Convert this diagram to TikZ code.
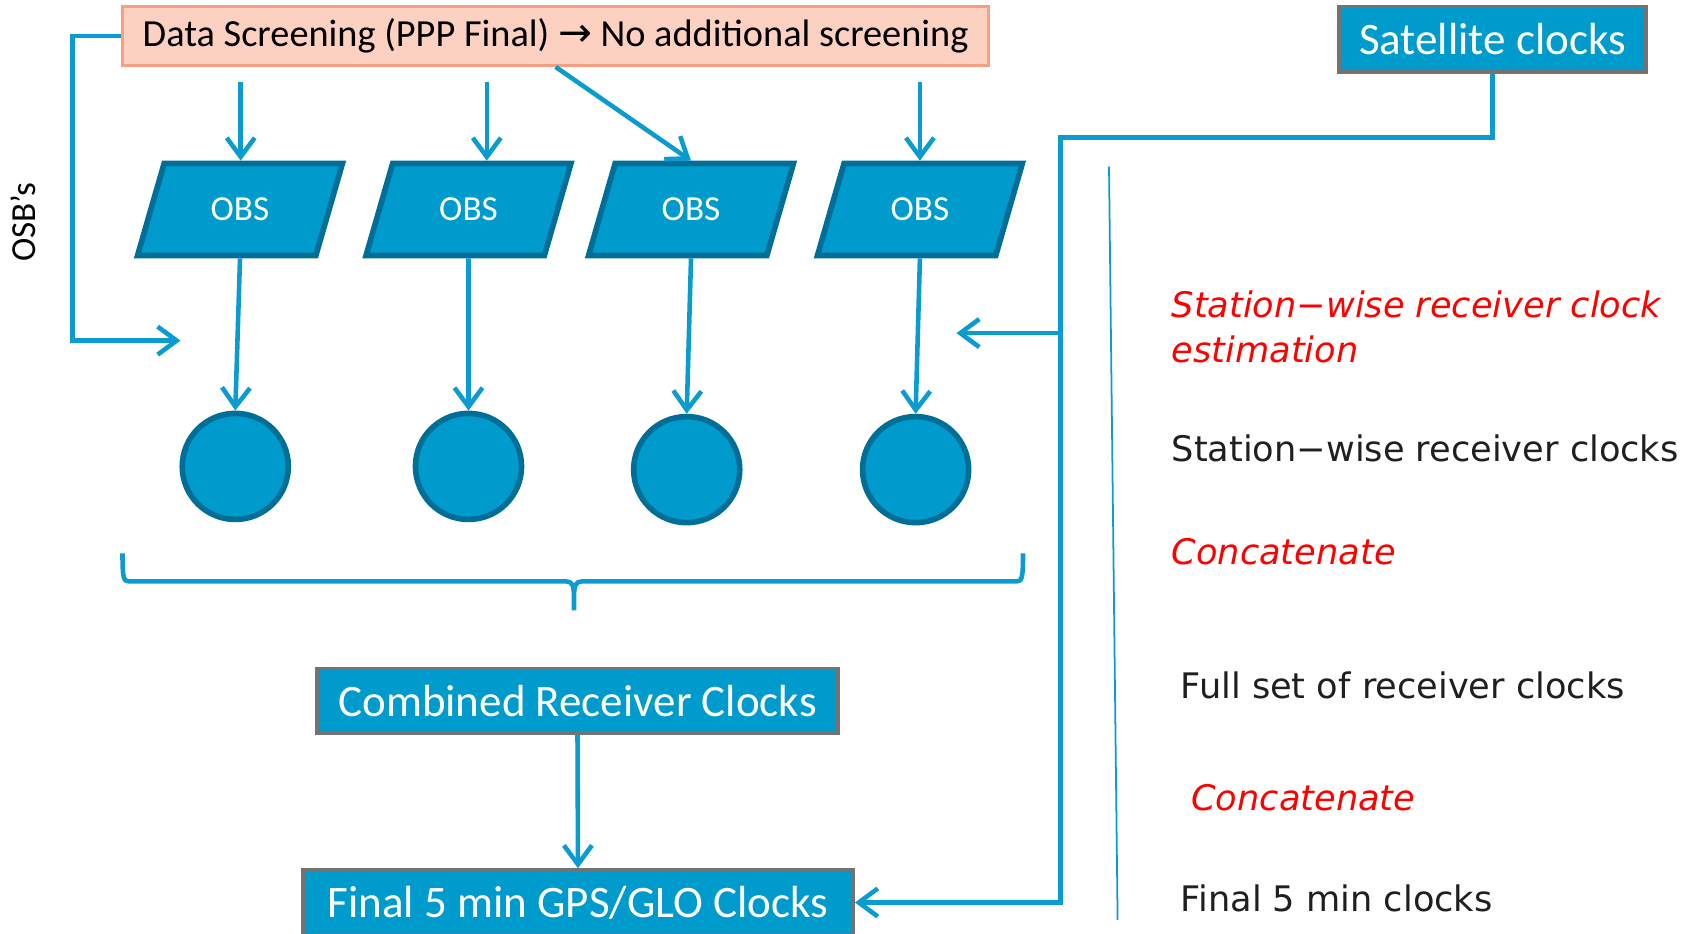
\documentclass[tikz,border=0pt]{standalone}
\usepackage{fontspec}
\setmainfont{Carlito}
\newfontfamily\notefont{DejaVu Sans}
\usetikzlibrary{shapes.geometric,arrows.meta}
\definecolor{clkblue}{RGB}{0,155,205}
\definecolor{clkdark}{RGB}{0,110,150}
\definecolor{clkline}{RGB}{10,155,208}
\definecolor{screenfill}{RGB}{253,209,194}
\definecolor{screenedge}{RGB}{245,160,130}

\begin{document}
\begin{tikzpicture}[x=0.01cm,y=-0.01cm,
  bluebox/.style={draw=black!55,line width=1pt,fill=clkblue,text=white,inner sep=0pt,font=\fontsize{12.8}{15}\selectfont},
  obsbox/.style={trapezium,trapezium left angle=66,trapezium right angle=114,trapezium stretches=true,
    draw=clkdark,line width=1.6pt,fill=clkblue,text=white,minimum width=2.05cm,minimum height=0.92cm,
    inner sep=0pt,font=\fontsize{10}{12}\selectfont},
  rcvdot/.style={circle,draw=clkdark,line width=1.6pt,fill=clkblue,minimum size=1.06cm,inner sep=0pt},
  flow/.style={draw=clkline,line width=1.3pt,-{Straight Barb[length=1.9mm,width=2.8mm]}},
  note/.style={anchor=west,inner sep=0pt,text=black!88,font=\notefont\fontsize{10}{12.8}\selectfont},
  rednote/.style={note,text=red,font=\notefont\itshape\fontsize{10}{12.8}\selectfont}]
\useasboundingbox (0,0) rectangle (1685,933);

\node (screen) at (555.6,36) [draw=screenedge,line width=0.8pt,fill=screenfill,minimum width=8.66cm,minimum height=0.59cm,inner sep=0pt,font=\fontsize{10.9}{13}\selectfont] {Data Screening (PPP Final) {\notefont\fontsize{11.5}{13}\selectfont →} No additional screening};
\node (sat) at (1492.5,39.2) [bluebox,minimum width=3.07cm,minimum height=0.656cm] {Satellite clocks};

\foreach \i/\x/\cx/\cy in {1/240/235.3/466.4,2/468.5/468.5/466.4,3/691/686.7/469.6,4/919.9/915.6/469.6} {
  \node (obs\i) at (\x,209.5) [obsbox] {OBS};
  \node (rc\i) at (\cx,\cy) [rcvdot] {};
  \draw[flow] (obs\i.south) -- (rc\i.north);
}

\foreach \i/\x in {1/240.7,2/486.8,4/919.9} {
  \coordinate (s\i) at (\x,81.7);
  \draw[flow] (s\i) -- (s\i |- obs\i.north);
}
\draw[flow] (screen.south) -- (obs3.north);

\node (osb) at (23.6,222.4) [rotate=90,font=\fontsize{10}{12}\selectfont] {OSB’s};
\coordinate (osbin) at (180.5,340.6);
\draw[flow] (screen.west) -- ++(-48.4,0) |- (osbin);

\draw[clkline,line width=1.3pt] (122.5,553.4) .. controls (122.5,578) and (123.5,581.4) .. (129,581.4) -- (566,581.4)
  .. controls (572,581.4) and (574,585) .. (574,597) -- (574,610.4) -- (574,597)
  .. controls (574,585) and (576,581.4) .. (582,581.4) -- (1016.5,581.4)
  .. controls (1022,581.4) and (1023,578) .. (1023,553.4);

\node (comb) at (577.5,700.7) [bluebox,minimum width=5.21cm,minimum height=0.646cm] {Combined Receiver Clocks};
\node (final) at (578,902.5) [bluebox,minimum width=5.5cm,minimum height=0.65cm] {Final 5 min GPS/GLO Clocks};
\draw[flow] (comb.south) -- (final.north);

\coordinate (bus) at (1060.6,137.5);
\coordinate (tap) at (1060.6,333.1);
\coordinate (rcvin) at (956.4,333.1);
\draw[flow] (sat.south) |- (bus) |- (final.east);
\draw[flow] (tap) -- (rcvin);

\draw[clkline,line width=0.5pt] (1109,166.6) -- (1117.6,919.9);

\node (est) at (1171,326.5) [rednote,align=left] {Station−wise receiver clock\\estimation};
\node (rcv) at (1171,448) [note] {Station−wise receiver clocks};
\node (cat1) at (1171,551.3) [rednote] {Concatenate};
\node (full) at (1180,685.6) [note] {Full set of receiver clocks};
\node (cat2) at (1190.7,797.4) [rednote] {Concatenate};
\node (fin) at (1180,898.4) [note] {Final 5 min clocks};
\end{tikzpicture}
\end{document}
